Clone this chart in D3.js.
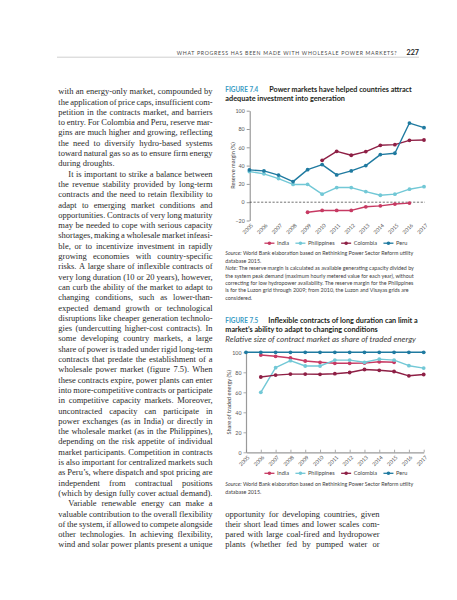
<!DOCTYPE html>
<html><head><meta charset="utf-8">
<script src="https://cdn.jsdelivr.net/npm/d3@7"></script>
<style>
html,body{margin:0;padding:0;background:#fff;}
svg{display:block;}
</style></head><body>
<script>
// ---------- DATA ----------
const yearLabels = ["2005","2006","2007","2008","2009","2010","2011","2012","2013","2014","2015","2016","2017"];
const seriesNames = ["India","Philippines","Colombia","Peru"];
const seriesColors = ["#c73a63","#72c8d6","#8e1f45","#1f7aa0"];

// Figure 7.4 Reserve margin (%)
const fig74India       = [null,null,null,null,-11,-9,-9,-9,-5,-4,-2,-1,null];
const fig74Philippines = [33.5,31,25.8,19.4,19.5,8.8,16,16,11.6,7.6,8.8,14.2,17];
const fig74Colombia    = [null,null,null,null,null,45.8,55.6,51.3,55.3,62.2,62.9,67.6,68];
const fig74Peru        = [35.3,34.2,29.6,22.5,35.6,41.1,29.8,34.2,40,52,53.5,86.5,81.5];
const fig74YTicks = [-20,0,20,40,60,80,100];

// Figure 7.5 Relative size of contract market (% of traded energy)
const fig75India       = [null,97.3,96,94.3,91.3,90,89,89,89.2,90.5,90,null,null];
const fig75Philippines = [null,60,84.6,91.6,86.3,86.3,92.2,92.2,90,93.2,92.2,86.6,84.2];
const fig75Colombia    = [null,75.3,77.2,78.2,78.2,78,78.6,79.8,82.8,82,80.8,76.5,77.8];
const fig75Peru        = [100,100,100,100,100,100,100,100,100,100,100,100,100];
const fig75YTicks = [0,20,40,60,80,100];

const headerText = "WHAT PROGRESS HAS BEEN MADE WITH WHOLESALE POWER MARKETS?";
const pageNumber = "227";

const fig74Title = ["FIGURE 7.4","Power markets have helped countries attract","adequate investment into generation"];
const fig74YTitle = "Reserve margin (%)";
const fig74Notes = [
 [["Source:",true],[" World Bank elaboration based on Rethinking Power Sector Reform utility",false]],
 [["database 2015.",false]],
 [["Note:",true],[" The reserve margin is calculated as available generating capacity divided by",false]],
 [["the system peak demand (maximum hourly metered value for each year), without",false]],
 [["correcting for low hydropower availability. The reserve margin for the Philippines",false]],
 [["is for the Luzon grid through 2009; from 2010, the Luzon and Visayas grids are",false]],
 [["considered.",false]]
];
const fig75Title = ["FIGURE 7.5","Inflexible contracts of long duration can limit a","market\u2019s ability to adapt to changing conditions"];
const fig75Subtitle = "Relative size of contract market as share of traded energy";
const fig75YTitle = "Share of traded energy (%)";
const fig75Notes = [
 [["Source:",true],[" World Bank elaboration based on Rethinking Power Sector Reform utility",false]],
 [["database 2015.",false]]
];

const leftLines = [
"with an energy-only market, compounded by",
"the application of price caps, insufficient com-",
"petition in the contracts market, and barriers",
"to entry. For Colombia and Peru, reserve mar-",
"gins are much higher and growing, reflecting",
"the need to diversify hydro-based systems",
"toward natural gas so as to ensure firm energy",
"during droughts.",
"It is important to strike a balance between",
"the revenue stability provided by long-term",
"contracts and the need to retain flexibility to",
"adapt to emerging market conditions and",
"opportunities. Contracts of very long maturity",
"may be needed to cope with serious capacity",
"shortages, making a wholesale market infeasi-",
"ble, or to incentivize investment in rapidly",
"growing economies with country-specific",
"risks. A large share of inflexible contracts of",
"very long duration (10 or 20 years), however,",
"can curb the ability of the market to adapt to",
"changing conditions, such as lower-than-",
"expected demand growth or technological",
"disruptions like cheaper generation technolo-",
"gies (undercutting higher-cost contracts). In",
"some developing country markets, a large",
"share of power is traded under rigid long-term",
"contracts that predate the establishment of a",
"wholesale power market (figure 7.5). When",
"these contracts expire, power plants can enter",
"into more-competitive contracts or participate",
"in competitive capacity markets. Moreover,",
"uncontracted capacity can participate in",
"power exchanges (as in India) or directly in",
"the wholesale market (as in the Philippines),",
"depending on the risk appetite of individual",
"market participants. Competition in contracts",
"is also important for centralized markets such",
"as Peru\u2019s, where dispatch and spot pricing are",
"independent from contractual positions",
"(which by design fully cover actual demand).",
"Variable renewable energy can make a",
"valuable contribution to the overall flexibility",
"of the system, if allowed to compete alongside",
"other technologies. In achieving flexibility,",
"wind and solar power plants present a unique"
];
const leftIndented = [8,40];
const leftRagged = [7,39];
const rightLines = [
"opportunity for developing countries, given",
"their short lead times and lower scales com-",
"pared with large coal-fired and hydropower",
"plants (whether fed by pumped water or"
];

// ---------- SETUP ----------
const W=457,H=600;
const SANS="Lato, 'Open Sans', 'Liberation Sans', sans-serif";
const SERIF="'Liberation Serif', 'DejaVu Serif', serif";
const svg=d3.select("body").append("svg").attr("width",W).attr("height",H);
svg.append("rect").attr("width",W).attr("height",H).attr("fill","#fff");

const meas = svg.append("text").attr("x",-1000).attr("y",-1000);
function tw(str,family,size,weight,style){
  meas.attr("font-family",family).attr("font-size",size)
      .attr("font-weight",weight||"normal").attr("font-style",style||"normal").text(str);
  return meas.node().getComputedTextLength();
}

const CX = 225.3; // right column left edge

// ---------- HEADER ----------
svg.append("text").attr("x",176.7).attr("y",54.6)
  .attr("font-family",SANS).attr("font-size",5.2).attr("fill","#4a4a4a")
  .attr("textLength",220).attr("lengthAdjust","spacing").text(headerText);
svg.append("text").attr("x",419).attr("y",55).attr("text-anchor","end")
  .attr("font-family",SANS).attr("font-size",7.2).attr("font-weight","bold").attr("fill","#222").text(pageNumber);
svg.append("line").attr("x1",57).attr("x2",419).attr("y1",57.2).attr("y2",57.2)
  .attr("stroke","#c4c4c4").attr("stroke-width",0.8);

// ---------- BODY TEXT ----------
const BODY_FS=8.5, LINE_H=10.3, FIRST_BASE=94.2;
function setLine(text,x,base,width,justify){
  const words=text.split(" ");
  const widths=words.map(w=>tw(w,SERIF,BODY_FS));
  const total=d3.sum(widths);
  let gap=BODY_FS*0.25;
  if(justify && words.length>1) gap=(width-total)/(words.length-1);
  const t=svg.append("text").attr("y",base).attr("font-family",SERIF)
     .attr("font-size",BODY_FS).attr("fill","#2a2a2a");
  let cx=x;
  words.forEach((w,i)=>{
    t.append("tspan").attr("x",cx).text(i<words.length-1? w+" ": w);
    cx+=widths[i]+gap;
  });
}
const LX=58.3, LW=154.3;
leftLines.forEach((ln,i)=>{
  const ind = leftIndented.includes(i)?10:0;
  setLine(ln, LX+ind, FIRST_BASE+i*LINE_H, LW-ind, !leftRagged.includes(i));
});
rightLines.forEach((ln,i)=>{
  setLine(ln, CX, FIRST_BASE+(41+i)*LINE_H, LW, true);
});

// ---------- FIGURE HELPERS ----------
function title(lines,y1,y2,firstTarget,secondTarget){
  svg.append("text").attr("x",CX).attr("y",y1).attr("font-family",SANS).attr("font-size",7.2)
    .attr("font-weight","bold").attr("fill","#3a9bc4").attr("textLength",33).attr("lengthAdjust","spacingAndGlyphs").text(lines[0]);
  svg.append("text").attr("x",firstTarget[0]).attr("y",y1).attr("font-family",SANS).attr("font-size",7.2)
    .attr("font-weight","bold").attr("fill","#231f20")
    .attr("textLength",firstTarget[1]-firstTarget[0]).attr("lengthAdjust","spacingAndGlyphs").text(lines[1]);
  svg.append("text").attr("x",CX).attr("y",y2).attr("font-family",SANS).attr("font-size",7.2)
    .attr("font-weight","bold").attr("fill","#231f20")
    .attr("textLength",secondTarget-CX).attr("lengthAdjust","spacingAndGlyphs").text(lines[2]);
}
function notes(rows,base0){
  const fs=5.35;
  rows.forEach((row,i)=>{
    const t=svg.append("text").attr("x",CX).attr("y",base0+i*7.4).attr("font-family",SANS)
      .attr("font-size",fs).attr("fill","#3d3d3d");
    row.forEach(([s,it])=>{ t.append("tspan").attr("font-style",it?"italic":"normal").text(s); });
    const w=t.node().getComputedTextLength();
    if(i===0 && w>197.5) t.attr("textLength",197.5).attr("lengthAdjust","spacingAndGlyphs");
  });
}
function legend(cy){
  const fs=5.6, sw=10, g1=2.6, g2=6.5;
  const widths=seriesNames.map(n=>tw(n,SANS,fs));
  const total=d3.sum(widths)+seriesNames.length*(sw+g1)+(seriesNames.length-1)*g2;
  let x=335.9-total/2;
  const lg=svg.append("g");
  seriesNames.forEach((n,i)=>{
    lg.append("line").attr("x1",x).attr("x2",x+sw).attr("y1",cy).attr("y2",cy)
      .attr("stroke",seriesColors[i]).attr("stroke-width",1.3);
    lg.append("circle").attr("cx",x+sw/2).attr("cy",cy).attr("r",1.8).attr("fill",seriesColors[i]);
    lg.append("text").attr("x",x+sw+g1).attr("y",cy+1.9).attr("font-family",SANS).attr("font-size",fs)
      .attr("fill","#444").text(n);
    x+=sw+g1+widths[i]+g2;
  });
}
function drawSeries(g,x,y,arr,color){
  const pts=yearLabels.map((yr,i)=>({yr,v:arr[i]})).filter(d=>d.v!=null);
  const line=d3.line().x(d=>x(d.yr)).y(d=>y(d.v));
  g.append("path").datum(pts).attr("d",line).attr("fill","none")
    .attr("stroke",color).attr("stroke-width",1.4).attr("stroke-linejoin","round");
  g.selectAll(null).data(pts).join("circle").attr("cx",d=>x(d.yr)).attr("cy",d=>y(d.v))
    .attr("r",1.9).attr("fill",color);
}

// ---------- FIGURE 7.4 ----------
title(fig74Title,91.5,100.5,[269.3,411.7],345);
{
  const x=d3.scalePoint().domain(yearLabels).range([249.4,424]);
  const y=d3.scaleLinear().domain([-20,100]).range([220.5,110.7]);
  const g=svg.append("g");
  const ya=g.append("g").attr("transform","translate(249.7,0)")
    .call(d3.axisLeft(y).tickValues(fig74YTicks).tickSize(3).tickSizeOuter(0).tickPadding(2));
  ya.select(".domain").attr("stroke","#555").attr("stroke-width",0.7);
  ya.selectAll(".tick line").attr("stroke","#555").attr("stroke-width",0.6);
  ya.selectAll(".tick text").attr("font-family",SANS).attr("font-size",5.3).attr("fill","#555");
  const xa=g.append("g").attr("transform","translate(0,220.5)")
    .call(d3.axisBottom(x).tickSize(0).tickPadding(0));
  xa.select(".domain").remove();
  xa.selectAll(".tick text").attr("font-family",SANS).attr("font-size",5.3).attr("fill","#555")
    .attr("text-anchor","end").attr("x",0).attr("y",0).attr("dy",0)
    .attr("transform","translate(3.6,5.2) rotate(-45)");
  g.append("line").attr("x1",249.7).attr("x2",x("2017")+1).attr("y1",y(0)).attr("y2",y(0))
    .attr("stroke","#333").attr("stroke-width",0.7).attr("stroke-dasharray","2.2,1.6");
  svg.append("text").attr("transform",`translate(235,${(y(100)+y(-20))/2}) rotate(-90)`)
    .attr("text-anchor","middle").attr("font-family",SANS).attr("font-size",5.6).attr("fill","#444").text(fig74YTitle);
  const data=[fig74India,fig74Philippines,fig74Colombia,fig74Peru];
  data.forEach((arr,i)=>drawSeries(g,x,y,arr,seriesColors[i]));
  legend(243.2);
  notes(fig74Notes,255.3);
}

// ---------- FIGURE 7.5 ----------
title(fig75Title,323.2,332,[268.3,417.7],377.7);
svg.append("text").attr("x",CX).attr("y",342.4).attr("font-family",SANS).attr("font-size",7.2)
  .attr("font-style","italic").attr("fill","#3d3d3d").attr("textLength",416-CX).attr("lengthAdjust","spacingAndGlyphs")
  .text(fig75Subtitle);
{
  const x=d3.scalePoint().domain(yearLabels).range([246,423.7]);
  const y=d3.scaleLinear().domain([0,100]).range([452.3,352.3]);
  const g=svg.append("g");
  const ya=g.append("g").attr("transform","translate(246,0)")
    .call(d3.axisLeft(y).tickValues(fig75YTicks).tickSize(2.5).tickSizeOuter(0).tickPadding(2));
  ya.select(".domain").attr("stroke","#9a9a9a").attr("stroke-width",1.2);
  ya.selectAll(".tick line").attr("stroke","#777").attr("stroke-width",0.6);
  ya.selectAll(".tick text").attr("font-family",SANS).attr("font-size",5.3).attr("fill","#555");
  const xa=g.append("g").attr("transform","translate(0,452.3)")
    .call(d3.axisBottom(x).tickSizeInner(-2.6).tickSizeOuter(0).tickPadding(0));
  xa.select(".domain").attr("stroke","#9a9a9a").attr("stroke-width",1.2);
  xa.selectAll(".tick line").attr("stroke","#888").attr("stroke-width",0.7);
  xa.selectAll(".tick text").attr("font-family",SANS).attr("font-size",5.3).attr("fill","#555")
    .attr("text-anchor","end").attr("x",0).attr("y",0).attr("dy",0)
    .attr("transform","translate(3.4,5.4) rotate(-45)");
  svg.append("text").attr("transform",`translate(230.8,${(y(100)+y(0))/2}) rotate(-90)`)
    .attr("text-anchor","middle").attr("font-family",SANS).attr("font-size",5.6).attr("fill","#444").text(fig75YTitle);
  const data=[fig75India,fig75Philippines,fig75Colombia,fig75Peru];
  data.forEach((arr,i)=>drawSeries(g,x,y,arr,seriesColors[i]));
  legend(473.3);
  notes(fig75Notes,486.2);
}
meas.remove();
</script>
</body></html>
